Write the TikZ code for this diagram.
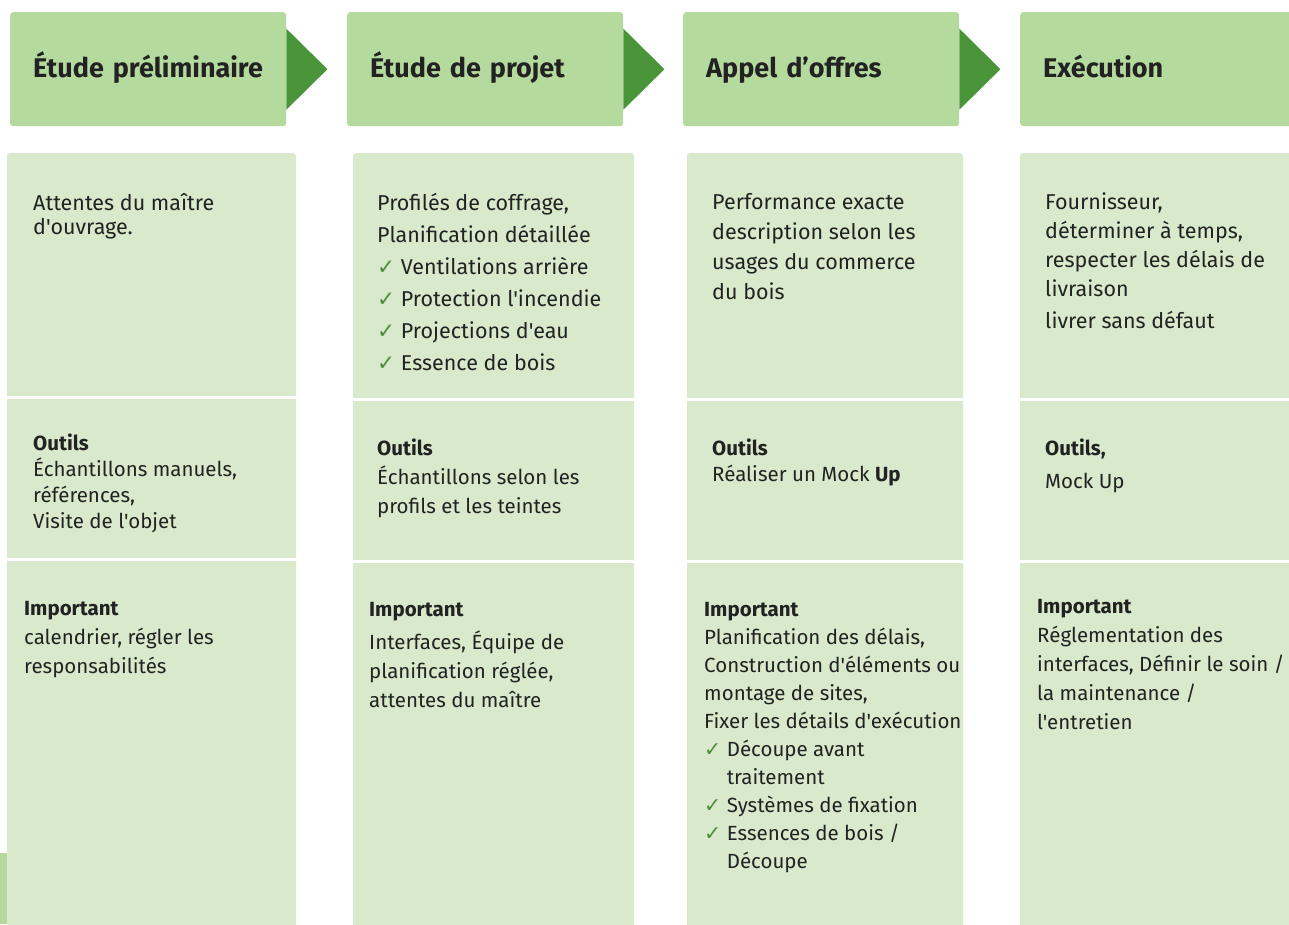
\documentclass[tikz,border=0pt]{standalone}
\usepackage{fontspec}
\setmainfont{Fira Sans}[Ligatures=TeXOff]
\newfontfamily\symfont{DejaVu Sans}
\definecolor{headgreen}{HTML}{B5DA9E}
\definecolor{bodygreen}{HTML}{D8EACB}
\definecolor{pointgreen}{HTML}{4A943A}
\definecolor{checkgreen}{HTML}{4E8C3C}
\definecolor{ink}{HTML}{222222}
\newcommand{\chk}{{\color{checkgreen}\symfont\char"2713}\ }
\newcommand{\chkgap}{\phantom{\chk}}
\tikzset{
  phasebox/.style={fill=headgreen, rounded corners=3pt, anchor=north west, inner xsep=23pt, inner ysep=0pt,
    minimum width=276pt, minimum height=114pt, text width=230pt, text height=22pt, text depth=6pt,
    align=left, text=ink, font=\bfseries\fontsize{27}{30}\selectfont},
  txt/.style={anchor=north west, inner sep=0pt, align=left, text=ink, font=\fontsize{20.5}{#1}\selectfont},
  txt/.default=29,
  lead/.style={txt=#1, font=\fontsize{21.5}{#1}\selectfont}
}
\begin{document}
\begin{tikzpicture}[x=1pt,y=-1pt]
  \useasboundingbox (0,0) rectangle (1289,924);
  \clip (0,0) rectangle (1289,924);

  % body columns
  \foreach \l/\r/\a/\b in {7/296/397/559, 353/634/399/561, 687/963/399/561, 1020/1310/399/561}{
    \fill[bodygreen, rounded corners=3pt] (\l,153) rectangle (\r,940);
    \draw[white, line width=3pt] (\l,\a) -- (\r,\a);
    \draw[white, line width=3pt] (\l,\b) -- (\r,\b);
  }
  \fill[headgreen] (0,853) rectangle (7,924);

  % phases
  \node[phasebox] (etude) at (10,12) {Étude préliminaire};
  \node[phasebox] (projet) at (347,12) {Étude de projet};
  \node[phasebox] (appel) at (683,12) {Appel d’offres};
  \node[phasebox] (exec) at (1020,12) {Exécution};
  \foreach \h in {etude,projet,appel}
    \fill[pointgreen] (\h.east) ++(0,-40.5) -- ++(41,40.5) -- ++(-41,40.5) -- cycle;

  % Étude préliminaire
  \node[lead=24] (ep1) at (33,193) {Attentes du maître\\d'ouvrage.};
  \node[txt=26] (ep2) at (33,434) {\textbf{Outils}\\Échantillons manuels,\\références,\\Visite de l'objet};
  \node[txt=29] (ep3) at (24,601) {\textbf{Important}\\calendrier, régler les\\responsabilités};

  % Étude de projet
  \node[lead=32] (pr1) at (377,193) {Profilés de coffrage,\\Planification détaillée\\\chk Ventilations arrière\\
    \chk Protection l'incendie\\\chk Projections d'eau\\\chk Essence de bois};
  \node[txt=29] (pr2) at (377,439) {\textbf{Outils}\\Échantillons selon les\\profils et les teintes};
  \node[txt=29] (pr3) at (369,602) {\textbf{Important}\\[4pt]Interfaces, Équipe de\\planification réglée,\\attentes du maître};

  % Appel d'offres
  \node[lead=30] (ao1) at (712,193) {Performance exacte\\description selon les\\usages du commerce\\du bois};
  \node[txt=26] (ao2) at (712,439) {\textbf{Outils}\\Réaliser un Mock \textbf{Up}};
  \node[txt=28] (ao3) at (704,602) {\textbf{Important}\\Planification des délais,\\Construction d'éléments ou\\montage de sites,\\
    Fixer les détails d'exécution\\\chk Découpe avant\\\chkgap traitement\\\chk Systèmes de fixation\\
    \chk Essences de bois /\\\chkgap Découpe};

  % Exécution
  \node[lead=29] (ex1) at (1045,193) {Fournisseur,\\déterminer à temps,\\respecter les délais de\\livraison\\[3pt]livrer sans défaut};
  \node[txt=33] (ex2) at (1045,439) {\textbf{Outils,}\\Mock Up};
  \node[txt=29] (ex3) at (1037,599) {\textbf{Important}\\Réglementation des\\interfaces, Définir le soin /\\la maintenance /\\l'entretien};
\end{tikzpicture}
\end{document}
